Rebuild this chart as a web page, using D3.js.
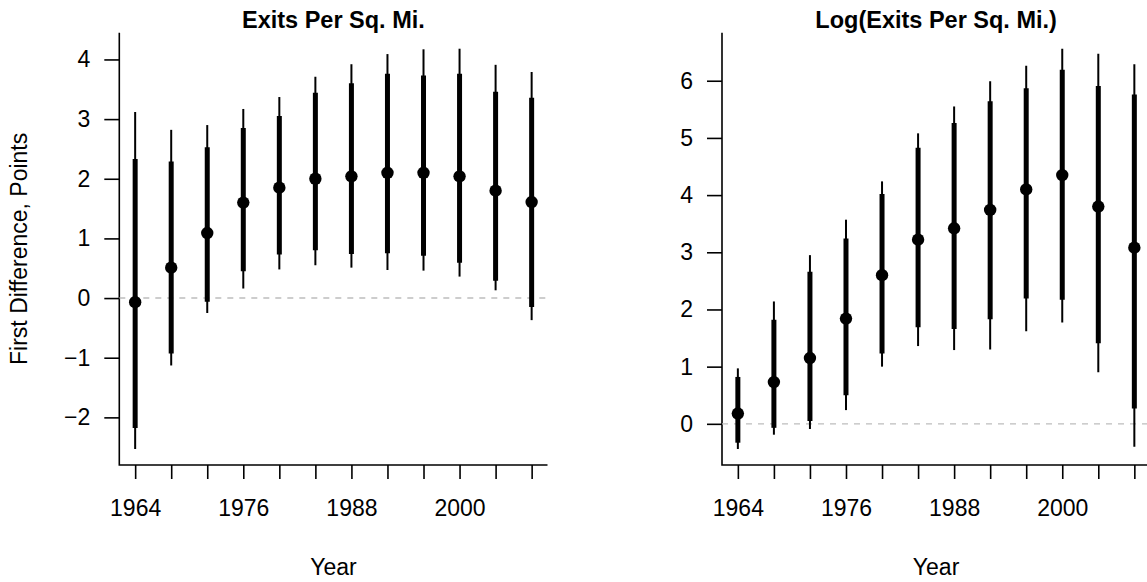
<!DOCTYPE html>
<html>
<head>
<meta charset="utf-8">
<script src="https://cdn.jsdelivr.net/npm/d3@7"></script>
<style>
  html, body { margin: 0; padding: 0; background: #fff; }
  svg { display: block; font-family: "Liberation Sans", Arial, Helvetica, sans-serif; }
</style>
</head>
<body>
<svg id="chart" width="1147" height="582"></svg>
<script>
// Election years for the simulated first differences
const years = [1964, 1968, 1972, 1976, 1980, 1984, 1988, 1992, 1996, 2000, 2004, 2008];
const xTickLabels = [1964, 1976, 1988, 2000];

// Exits per square mile: point estimate, inner (thick) and outer (thin) intervals
const levelEst    = [-0.07, 0.51, 1.09, 1.60, 1.85, 2.00, 2.04, 2.10, 2.10, 2.04, 1.80, 1.61];
const levelInnerLo = [-2.18, -0.93, -0.06, 0.45, 0.73, 0.80, 0.74, 0.75, 0.71, 0.59, 0.29, -0.15];
const levelInnerHi = [2.33, 2.29, 2.53, 2.85, 3.05, 3.44, 3.60, 3.76, 3.73, 3.76, 3.46, 3.36];
const levelOuterLo = [-2.53, -1.13, -0.25, 0.16, 0.48, 0.55, 0.51, 0.47, 0.46, 0.36, 0.13, -0.37];
const levelOuterHi = [3.12, 2.82, 2.90, 3.17, 3.37, 3.71, 3.92, 4.09, 4.17, 4.18, 3.91, 3.79];
const levelTicks = [-2, -1, 0, 1, 2, 3, 4];

// Log of exits per square mile
const logEst     = [0.18, 0.73, 1.15, 1.84, 2.60, 3.22, 3.42, 3.74, 4.10, 4.35, 3.80, 3.08];
const logInnerLo = [-0.33, -0.07, 0.05, 0.50, 1.23, 1.69, 1.66, 1.83, 2.19, 2.17, 1.41, 0.27];
const logInnerHi = [0.82, 1.82, 2.66, 3.24, 4.02, 4.83, 5.26, 5.64, 5.87, 6.19, 5.91, 5.76];
const logOuterLo = [-0.44, -0.19, -0.09, 0.24, 1.00, 1.36, 1.29, 1.30, 1.62, 1.77, 0.90, -0.40];
const logOuterHi = [0.97, 2.14, 2.95, 3.57, 4.24, 5.08, 5.55, 5.99, 6.26, 6.56, 6.47, 6.29];
const logTicks = [0, 1, 2, 3, 4, 5, 6];

const panels = [
  { title: "Exits Per Sq. Mi.", left: 119.3, est: levelEst, innerLo: levelInnerLo, innerHi: levelInnerHi,
    outerLo: levelOuterLo, outerHi: levelOuterHi, ticks: levelTicks, ylab: "First Difference, Points" },
  { title: "Log(Exits Per Sq. Mi.)", left: 722, est: logEst, innerLo: logInnerLo, innerHi: logInnerHi,
    outerLo: logOuterLo, outerHi: logOuterHi, ticks: logTicks, ylab: null }
];

const svg = d3.select("#chart");
const plotW = 428.2, plotTop = 32.7, plotBottom = 465;
const fontSize = 23;

// R-style 4% padding on both ends of a range
function padded(lo, hi) {
  const r = hi - lo;
  return [lo - 0.04 * r, hi + 0.04 * r];
}

panels.forEach(p => {
  const g = svg.append("g");
  const xDom = padded(d3.min(years), d3.max(years));
  const x = d3.scaleLinear().domain(xDom).range([p.left, p.left + plotW]);
  const yDom = padded(d3.min(p.outerLo), d3.max(p.outerHi));
  const y = d3.scaleLinear().domain(yDom).range([plotBottom, plotTop]);

  // L-shaped frame
  g.append("path")
    .attr("d", `M${p.left},${plotTop}V${plotBottom}H${p.left + plotW}`)
    .attr("fill", "none").attr("stroke", "#000").attr("stroke-width", 1.6);

  // Reference line at zero
  g.append("line")
    .attr("x1", p.left).attr("x2", p.left + plotW)
    .attr("y1", y(0)).attr("y2", y(0))
    .attr("stroke", "#bdbdbd").attr("stroke-width", 1.4)
    .attr("stroke-dasharray", "6,6");

  // Y axis
  const yAxis = d3.axisLeft(y).tickValues(p.ticks)
    .tickSize(15).tickPadding(14)
    .tickFormat(d => d < 0 ? "\u2212" + Math.abs(d) : String(d));
  const ya = g.append("g").attr("transform", `translate(${p.left},0)`).call(yAxis);
  ya.select(".domain").remove();
  ya.selectAll(".tick line").attr("stroke", "#000").attr("stroke-width", 1.6);
  ya.selectAll(".tick text").attr("font-size", fontSize).attr("fill", "#000")
    .attr("font-family", "'Liberation Sans', Arial, sans-serif");

  // X axis
  const xAxis = d3.axisBottom(x).tickValues(years)
    .tickSize(14).tickPadding(21)
    .tickFormat(d => xTickLabels.includes(d) ? String(d) : "");
  const xa = g.append("g").attr("transform", `translate(0,${plotBottom})`).call(xAxis);
  xa.select(".domain").remove();
  xa.selectAll(".tick line").attr("stroke", "#000").attr("stroke-width", 1.6);
  xa.selectAll(".tick text").attr("font-size", fontSize).attr("fill", "#000")
    .attr("font-family", "'Liberation Sans', Arial, sans-serif");

  // Outer intervals (thin)
  g.append("g").selectAll("line").data(years).join("line")
    .attr("x1", d => x(d)).attr("x2", d => x(d))
    .attr("y1", (d, i) => y(p.outerLo[i])).attr("y2", (d, i) => y(p.outerHi[i]))
    .attr("stroke", "#000").attr("stroke-width", 2);

  // Inner intervals (thick)
  g.append("g").selectAll("line").data(years).join("line")
    .attr("x1", d => x(d)).attr("x2", d => x(d))
    .attr("y1", (d, i) => y(p.innerLo[i])).attr("y2", (d, i) => y(p.innerHi[i]))
    .attr("stroke", "#000").attr("stroke-width", 5);

  // Point estimates
  g.append("g").selectAll("circle").data(years).join("circle")
    .attr("cx", d => x(d)).attr("cy", (d, i) => y(p.est[i]))
    .attr("r", 6.2).attr("fill", "#000");

  // Panel title
  g.append("text")
    .attr("x", p.left + plotW / 2).attr("y", 27.5)
    .attr("text-anchor", "middle").attr("font-weight", "bold")
    .attr("font-size", 23.5).text(p.title);

  // X axis title
  g.append("text")
    .attr("x", p.left + plotW / 2).attr("y", 575)
    .attr("text-anchor", "middle").attr("font-size", fontSize).text("Year");

  // Y axis title
  if (p.ylab) {
    g.append("text")
      .attr("transform", `translate(26.5,${(plotTop + plotBottom) / 2}) rotate(-90)`)
      .attr("text-anchor", "middle").attr("font-size", fontSize).text(p.ylab);
  }
});
</script>
</body>
</html>
